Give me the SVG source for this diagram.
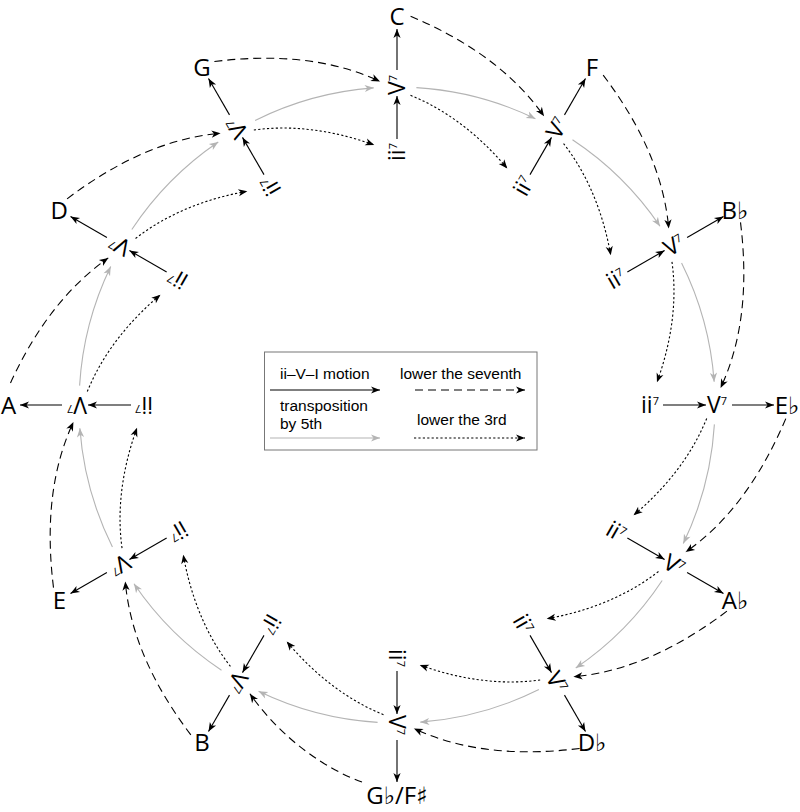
<svg xmlns="http://www.w3.org/2000/svg" width="800" height="812" viewBox="0 0 800 812">
<style>
.lab{font-family:'Open Sans','DejaVu Sans',sans-serif;font-size:23px;fill:#000;text-anchor:middle}
.key{font-size:24px}
.sup{font-size:11px}
.leg{font-family:'Liberation Sans',Arial,sans-serif;font-size:15.5px;fill:#000}
.solid{stroke:#000;stroke-width:1.1;fill:none;marker-end:url(#ab)}
.gray{stroke:#b4b4b4;stroke-width:1.1;fill:none;marker-end:url(#ag)}
.dash{stroke:#000;stroke-width:1.1;fill:none;stroke-dasharray:8 5;marker-end:url(#ab)}
.dot{stroke:#000;stroke-width:1.1;fill:none;stroke-dasharray:2.2 2.2;marker-end:url(#ab)}
</style>
<defs>
<marker id="ab" viewBox="-10 -5 11 10" refX="0" refY="0" markerWidth="11" markerHeight="10" markerUnits="userSpaceOnUse" orient="auto">
<path d="M0,0 L-9,-3.6 L-6.5,0 L-9,3.6 Z" fill="#000"/>
</marker>
<marker id="ag" viewBox="-10 -5 11 10" refX="0" refY="0" markerWidth="11" markerHeight="10" markerUnits="userSpaceOnUse" orient="auto">
<path d="M0,0 L-9,-3.6 L-6.5,0 L-9,3.6 Z" fill="#b4b4b4"/>
</marker>
</defs>
<rect width="800" height="812" fill="#fff"/>

<g id="connectors">
<g transform="translate(397 405) rotate(-90)">
<line class="solid" x1="266" y1="0" x2="309" y2="0"/><line class="solid" x1="335" y1="0" x2="376" y2="0"/>
<path class="gray" d="M317.4,19.4 A318,318 0 0 1 286.3,138.4"/>
<path class="dot" d="M309.7,13.5 C294.3,51.5 267.9,83.9 236.5,110.3"/>
<path class="dash" d="M388.8,13.6 C366.5,66.1 335.4,114.4 288.7,147.1"/>
</g>
<g transform="translate(397 405) rotate(-60)">
<line class="solid" x1="266" y1="0" x2="309" y2="0"/><line class="solid" x1="335" y1="0" x2="377" y2="0"/>
<path class="gray" d="M317.4,19.4 A318,318 0 0 1 286.3,138.4"/>
<path class="dot" d="M309.7,13.5 C294.3,51.5 267.9,83.9 236.5,110.3"/>
<path class="dash" d="M388.8,13.6 C366.5,66.1 335.4,114.4 288.7,147.1"/>
</g>
<g transform="translate(397 405) rotate(-30)">
<line class="solid" x1="266" y1="0" x2="309" y2="0"/><line class="solid" x1="335" y1="0" x2="377" y2="0"/>
<path class="gray" d="M317.4,19.4 A318,318 0 0 1 286.3,138.4"/>
<path class="dot" d="M309.7,13.5 C294.3,51.5 267.9,83.9 236.5,110.3"/>
<path class="dash" d="M388.8,13.6 C366.5,66.1 335.4,114.4 288.7,147.1"/>
</g>
<g transform="translate(397 405) rotate(0)">
<line class="solid" x1="266" y1="0" x2="309" y2="0"/><line class="solid" x1="335" y1="0" x2="377" y2="0"/>
<path class="gray" d="M317.4,19.4 A318,318 0 0 1 286.3,138.4"/>
<path class="dot" d="M309.7,13.5 C294.3,51.5 267.9,83.9 236.5,110.3"/>
<path class="dash" d="M388.8,13.6 C366.5,66.1 335.4,114.4 288.7,147.1"/>
</g>
<g transform="translate(397 405) rotate(30)">
<line class="solid" x1="266" y1="0" x2="309" y2="0"/><line class="solid" x1="335" y1="0" x2="377" y2="0"/>
<path class="gray" d="M317.4,19.4 A318,318 0 0 1 286.3,138.4"/>
<path class="dot" d="M309.7,13.5 C294.3,51.5 267.9,83.9 236.5,110.3"/>
<path class="dash" d="M388.8,13.6 C366.5,66.1 335.4,114.4 288.7,147.1"/>
</g>
<g transform="translate(397 405) rotate(60)">
<line class="solid" x1="266" y1="0" x2="309" y2="0"/><line class="solid" x1="335" y1="0" x2="377" y2="0"/>
<path class="gray" d="M317.4,19.4 A318,318 0 0 1 286.3,138.4"/>
<path class="dot" d="M309.7,13.5 C294.3,51.5 267.9,83.9 236.5,110.3"/>
<path class="dash" d="M388.8,13.6 C366.5,66.1 335.4,114.4 288.7,147.1"/>
</g>
<g transform="translate(397 405) rotate(90)">
<line class="solid" x1="266" y1="0" x2="309" y2="0"/><line class="solid" x1="335" y1="0" x2="377" y2="0"/>
<path class="gray" d="M317.4,19.4 A318,318 0 0 1 286.3,138.4"/>
<path class="dot" d="M309.7,13.5 C294.3,51.5 267.9,83.9 236.5,110.3"/>
</g>
<path class="dash" d="M362,782 C328,770 282.6,740.4 249.9,693.7"/>
<g transform="translate(397 405) rotate(120)">
<line class="solid" x1="266" y1="0" x2="309" y2="0"/><line class="solid" x1="335" y1="0" x2="377" y2="0"/>
<path class="gray" d="M317.4,19.4 A318,318 0 0 1 286.3,138.4"/>
<path class="dot" d="M309.7,13.5 C294.3,51.5 267.9,83.9 236.5,110.3"/>
<path class="dash" d="M388.8,13.6 C366.5,66.1 335.4,114.4 288.7,147.1"/>
</g>
<g transform="translate(397 405) rotate(150)">
<line class="solid" x1="266" y1="0" x2="309" y2="0"/><line class="solid" x1="335" y1="0" x2="377" y2="0"/>
<path class="gray" d="M317.4,19.4 A318,318 0 0 1 286.3,138.4"/>
<path class="dot" d="M309.7,13.5 C294.3,51.5 267.9,83.9 236.5,110.3"/>
<path class="dash" d="M388.8,13.6 C366.5,66.1 335.4,114.4 288.7,147.1"/>
</g>
<g transform="translate(397 405) rotate(180)">
<line class="solid" x1="266" y1="0" x2="309" y2="0"/><line class="solid" x1="335" y1="0" x2="377" y2="0"/>
<path class="gray" d="M317.4,19.4 A318,318 0 0 1 286.3,138.4"/>
<path class="dot" d="M309.7,13.5 C294.3,51.5 267.9,83.9 236.5,110.3"/>
<path class="dash" d="M386.5,22 C366.5,66.1 335.4,114.4 288.7,147.1"/>
</g>
<g transform="translate(397 405) rotate(210)">
<line class="solid" x1="266" y1="0" x2="309" y2="0"/><line class="solid" x1="335" y1="0" x2="377" y2="0"/>
<path class="gray" d="M317.4,19.4 A318,318 0 0 1 286.3,138.4"/>
<path class="dot" d="M309.7,13.5 C294.3,51.5 267.9,83.9 236.5,110.3"/>
<path class="dash" d="M388.8,13.6 C366.5,66.1 335.4,114.4 288.7,147.1"/>
</g>
<g transform="translate(397 405) rotate(240)">
<line class="solid" x1="266" y1="0" x2="309" y2="0"/><line class="solid" x1="335" y1="0" x2="377" y2="0"/>
<path class="gray" d="M317.4,19.4 A318,318 0 0 1 286.3,138.4"/>
<path class="dot" d="M309.7,13.5 C294.3,51.5 267.9,83.9 236.5,110.3"/>
<path class="dash" d="M388.8,13.6 C366.5,66.1 335.4,114.4 288.7,147.1"/>
</g>
</g>

<g id="ii-C" transform="translate(397 405) rotate(-90)"><text class="lab" x="253" y="8">ii<tspan class="sup" dy="-8">7</tspan></text></g>
<g id="V-C" transform="translate(397 405) rotate(-90)"><text class="lab" x="320" y="8">V<tspan class="sup" dy="-8">7</tspan></text></g>
<g id="key-C"><text class="lab key" x="397" y="25">C</text></g>

<g id="ii-F" transform="translate(397 405) rotate(-60)"><text class="lab" x="253" y="8">ii<tspan class="sup" dy="-8">7</tspan></text></g>
<g id="V-F" transform="translate(397 405) rotate(-60)"><text class="lab" x="320" y="8">V<tspan class="sup" dy="-8">7</tspan></text></g>
<g id="key-F"><text class="lab key" x="592" y="76">F</text></g>

<g id="ii-Bb" transform="translate(397 405) rotate(-30)"><text class="lab" x="253" y="8">ii<tspan class="sup" dy="-8">7</tspan></text></g>
<g id="V-Bb" transform="translate(397 405) rotate(-30)"><text class="lab" x="320" y="8">V<tspan class="sup" dy="-8">7</tspan></text></g>
<g id="key-Bb"><text class="lab key" x="735" y="218.6">B♭</text></g>

<g id="ii-Eb" transform="translate(397 405) rotate(0)"><text class="lab" x="253" y="8">ii<tspan class="sup" dy="-8">7</tspan></text></g>
<g id="V-Eb" transform="translate(397 405) rotate(0)"><text class="lab" x="320" y="8">V<tspan class="sup" dy="-8">7</tspan></text></g>
<g id="key-Eb"><text class="lab key" x="787" y="413.6">E♭</text></g>

<g id="ii-Ab" transform="translate(397 405) rotate(30)"><text class="lab" x="253" y="8">ii<tspan class="sup" dy="-8">7</tspan></text></g>
<g id="V-Ab" transform="translate(397 405) rotate(30)"><text class="lab" x="320" y="8">V<tspan class="sup" dy="-8">7</tspan></text></g>
<g id="key-Ab"><text class="lab key" x="735" y="608.6">A♭</text></g>

<g id="ii-Db" transform="translate(397 405) rotate(60)"><text class="lab" x="253" y="8">ii<tspan class="sup" dy="-8">7</tspan></text></g>
<g id="V-Db" transform="translate(397 405) rotate(60)"><text class="lab" x="320" y="8">V<tspan class="sup" dy="-8">7</tspan></text></g>
<g id="key-Db"><text class="lab key" x="592" y="751.3">D♭</text></g>

<g id="ii-Gb" transform="translate(397 405) rotate(90)"><text class="lab" x="253" y="8">ii<tspan class="sup" dy="-8">7</tspan></text></g>
<g id="V-Gb" transform="translate(397 405) rotate(90)"><text class="lab" x="320" y="8">V<tspan class="sup" dy="-8">7</tspan></text></g>
<g id="key-Gb"><text class="lab key" x="397" y="803.6">G♭/F♯</text></g>

<g id="ii-B" transform="translate(397 405) rotate(120)"><text class="lab" x="253" y="8">ii<tspan class="sup" dy="-8">7</tspan></text></g>
<g id="V-B" transform="translate(397 405) rotate(120)"><text class="lab" x="320" y="8">V<tspan class="sup" dy="-8">7</tspan></text></g>
<g id="key-B"><text class="lab key" x="202" y="751.3">B</text></g>

<g id="ii-E" transform="translate(397 405) rotate(150)"><text class="lab" x="253" y="8">ii<tspan class="sup" dy="-8">7</tspan></text></g>
<g id="V-E" transform="translate(397 405) rotate(150)"><text class="lab" x="320" y="8">V<tspan class="sup" dy="-8">7</tspan></text></g>
<g id="key-E"><text class="lab key" x="59.3" y="608.6">E</text></g>

<g id="ii-A" transform="translate(397 405) rotate(180)"><text class="lab" x="253" y="8">ii<tspan class="sup" dy="-8">7</tspan></text></g>
<g id="V-A" transform="translate(397 405) rotate(180)"><text class="lab" x="320" y="8">V<tspan class="sup" dy="-8">7</tspan></text></g>
<g id="key-A"><text class="lab key" x="8.5" y="413.6">A</text></g>

<g id="ii-D" transform="translate(397 405) rotate(210)"><text class="lab" x="253" y="8">ii<tspan class="sup" dy="-8">7</tspan></text></g>
<g id="V-D" transform="translate(397 405) rotate(210)"><text class="lab" x="320" y="8">V<tspan class="sup" dy="-8">7</tspan></text></g>
<g id="key-D"><text class="lab key" x="59.3" y="218.6">D</text></g>

<g id="ii-G" transform="translate(397 405) rotate(240)"><text class="lab" x="253" y="8">ii<tspan class="sup" dy="-8">7</tspan></text></g>
<g id="V-G" transform="translate(397 405) rotate(240)"><text class="lab" x="320" y="8">V<tspan class="sup" dy="-8">7</tspan></text></g>
<g id="key-G"><text class="lab key" x="202" y="76">G</text></g>

<g id="legend">
<rect x="264.5" y="352" width="272.5" height="98" fill="#fff" stroke="#777" stroke-width="1"/>
<text class="leg" x="280" y="379">ii–V–I motion</text>
<text class="leg" x="400" y="379">lower the seventh</text>
<text class="leg" x="280" y="410.5">transposition</text>
<text class="leg" x="280" y="428.5">by 5th</text>
<text class="leg" x="417" y="425">lower the 3rd</text>
<line class="solid" x1="270" y1="390" x2="380" y2="390"/>
<line class="dash" x1="415" y1="390" x2="525" y2="390"/>
<line class="gray" x1="270" y1="438" x2="380" y2="438"/>
<line class="dot" x1="414" y1="438" x2="525" y2="438"/>
</g>
</svg>
